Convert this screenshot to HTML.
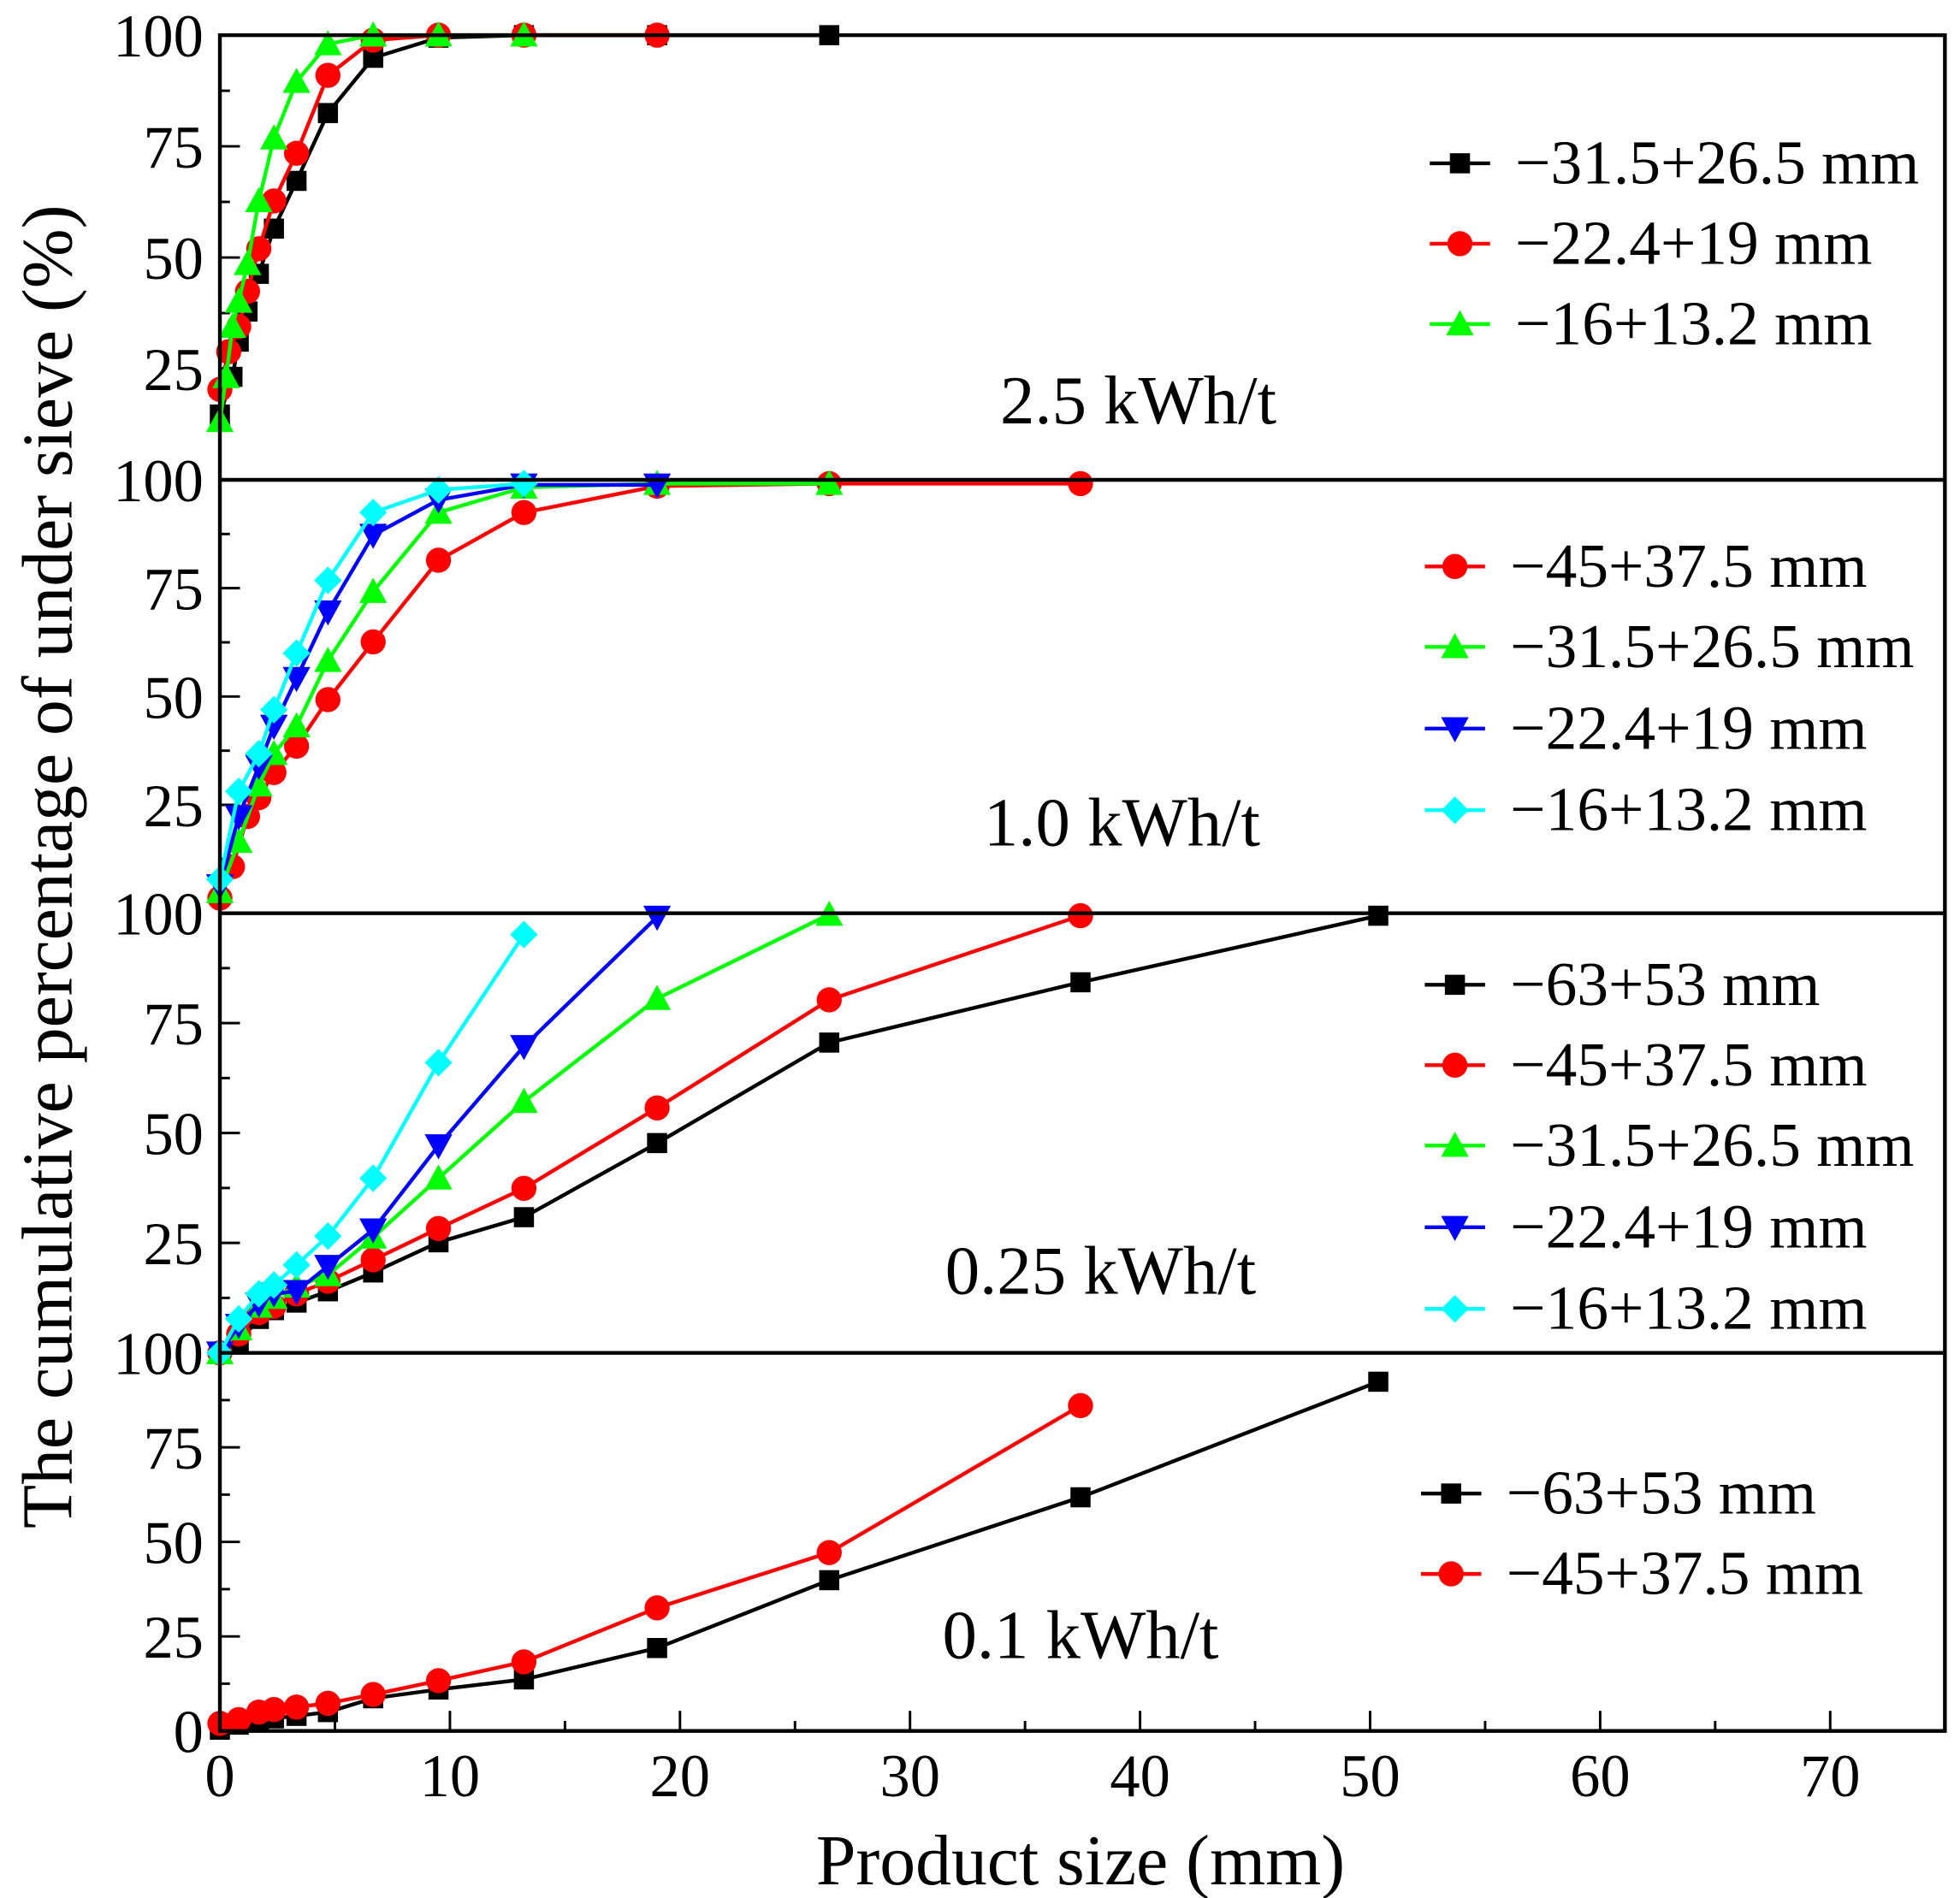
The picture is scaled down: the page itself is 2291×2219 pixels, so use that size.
<!DOCTYPE html>
<html><head><meta charset="utf-8"><style>
html,body{margin:0;padding:0;background:#fff}
svg{display:block}
text{font-family:"Liberation Serif",serif;fill:#000}
</style></head><body>
<svg id="s" width="2291" height="2219" viewBox="0 0 1560 1511" xmlns="http://www.w3.org/2000/svg">
<g id="g"></g>
<rect x="175" y="28" width="1373" height="1350" fill="none" stroke="#000" stroke-width="3"/>
<line x1="175" y1="382" x2="1548" y2="382" stroke="#000" stroke-width="3"/>
<line x1="175" y1="727" x2="1548" y2="727" stroke="#000" stroke-width="3"/>
<line x1="175" y1="1077" x2="1548" y2="1077" stroke="#000" stroke-width="3"/>
<text x="860" y="1500" font-size="57" text-anchor="middle">Product size (mm)</text>
<text transform="translate(57,690) rotate(-90)" font-size="57" text-anchor="middle">The cumulative percentage of under sieve (%)</text>
<text x="906" y="337" font-size="55" text-anchor="middle">2.5 kWh/t</text>
<text x="893" y="673" font-size="55" text-anchor="middle">1.0 kWh/t</text>
<text x="876" y="1030" font-size="55" text-anchor="middle">0.25 kWh/t</text>
<text x="860" y="1320" font-size="55" text-anchor="middle">0.1 kWh/t</text>
</svg>
<script>
const NS="http://www.w3.org/2000/svg",g=document.getElementById('g');
function el(t,a,txt){const e=document.createElementNS(NS,t);for(const k in a)e.setAttribute(k,a[k]);if(txt!==undefined)e.textContent=txt;g.appendChild(e);return e;}
const C={k:'#000',r:'#f00',g:'#0f0',b:'#00f',c:'#0ff'};
function mk(type,x,y,col){
 if(type=='s')el('rect',{x:x-8,y:y-8,width:16,height:16,fill:col});
 else if(type=='o')el('circle',{cx:x,cy:y,r:10,fill:col});
 else if(type=='t')el('polygon',{points:`${x},${y-11} ${x+11},${y+9} ${x-11},${y+9}`,fill:col});
 else if(type=='v')el('polygon',{points:`${x},${y+11} ${x+11},${y-9} ${x-11},${y-9}`,fill:col});
 else if(type=='d')el('polygon',{points:`${x},${y-11} ${x+11},${y} ${x},${y+11} ${x-11},${y}`,fill:col});
}
function ser(pts,type,col){
 el('polyline',{points:pts.map(p=>p.join(',')).join(' '),fill:'none',stroke:col,'stroke-width':3,'stroke-linejoin':'round'});
 pts.forEach(p=>mk(type,p[0],p[1],col));
}
for(let v=0;v<=75;v+=5){const x=175+v*18.31;el('line',{x1:x,y1:1378,x2:x,y2:v%10?1370:1362,stroke:'#000','stroke-width':2});
 if(v%10==0&&v<=70)el('text',{x:x,y:1430,'font-size':48,'text-anchor':'middle'},v);}
function yt(top,bot,zero){const h=bot-top;for(let v=0;v<=100;v+=12.5){const y=bot-v*h/100;el('line',{x1:175,y1:y,x2:v%25?183:191,y2:y,stroke:'#000','stroke-width':2});
 if(v%25==0&&(v>0||zero))el('text',{x:162,y:y+17,'font-size':48,'text-anchor':'end'},v);}}
yt(28,382,false);yt(382,727,false);yt(727,1077,false);yt(1077,1378,true);
ser([[175,330],[185,300],[190,272],[197,248],[206,218],[218,182],[236,144],[261,90],[297,46],[349,30],[417,28],[523,28],[660,28]],'s',C.k);
ser([[175,310],[182,280],[190,260],[197,232],[206,198],[218,160],[236,122],[261,60],[297,32],[349,28],[417,28],[523,28]],'o',C.r);
ser([[175,335],[180,300],[185,260],[190,240],[197,210],[206,160],[218,110],[236,65],[261,35],[297,28],[349,28],[417,28]],'t',C.g);
ser([[175,715],[185,690],[197,650],[206,635],[218,615],[236,594],[261,557],[297,511],[349,446],[417,408],[523,387],[660,385],[860,385]],'o',C.r);
ser([[175,710],[190,670],[206,625],[218,600],[236,578],[261,526],[297,471],[349,408],[417,388],[523,385],[660,385]],'t',C.g);
ser([[175,705],[190,650],[206,610],[218,578],[236,540],[261,487],[297,426],[349,398],[417,386],[523,386]],'v',C.b);
ser([[175,700],[190,630],[206,600],[218,565],[236,520],[261,462],[297,408],[349,390],[417,385]],'d',C.c);
ser([[175,1077],[190,1068],[206,1050],[218,1043],[236,1037],[261,1028],[297,1013],[349,989],[417,969],[523,910],[660,830],[860,782],[1097,729]],'s',C.k);
ser([[175,1077],[190,1062],[206,1045],[218,1040],[236,1030],[261,1020],[297,1003],[349,978],[417,946],[523,882],[660,796],[860,729]],'o',C.r);
ser([[175,1077],[190,1058],[206,1040],[218,1033],[236,1024],[261,1015],[297,985],[349,938],[417,877],[523,795],[660,728]],'t',C.g);
ser([[175,1077],[190,1055],[206,1038],[218,1030],[236,1028],[261,1008],[297,979],[349,912],[417,833],[523,730]],'v',C.b);
ser([[175,1077],[190,1050],[206,1030],[218,1023],[236,1007],[261,984],[297,938],[349,846],[417,744]],'d',C.c);
ser([[175,1377],[190,1373],[206,1370],[218,1368],[236,1366],[261,1363],[297,1352],[349,1345],[417,1337],[523,1312],[660,1258],[860,1192],[1097,1100]],'s',C.k);
ser([[175,1372],[190,1369],[206,1363],[218,1361],[236,1359],[261,1356],[297,1349],[349,1338],[417,1323],[523,1280],[660,1236],[860,1119]],'o',C.r);
function leg(x,y,type,col,txt){el('line',{x1:x-24,y1:y,x2:x+24,y2:y,stroke:col,'stroke-width':3});mk(type,x,y,col);el('text',{x:x+44,y:y+16,'font-size':50},txt);}
leg(1162,130,'s',C.k,'\u221231.5+26.5 mm');leg(1162,194,'o',C.r,'\u221222.4+19 mm');leg(1162,258,'t',C.g,'\u221216+13.2 mm');
leg(1158,451,'o',C.r,'\u221245+37.5 mm');leg(1158,515,'t',C.g,'\u221231.5+26.5 mm');leg(1158,580,'v',C.b,'\u221222.4+19 mm');leg(1158,645,'d',C.c,'\u221216+13.2 mm');
leg(1158,784,'s',C.k,'\u221263+53 mm');leg(1158,848,'o',C.r,'\u221245+37.5 mm');leg(1158,912,'t',C.g,'\u221231.5+26.5 mm');leg(1158,977,'v',C.b,'\u221222.4+19 mm');leg(1158,1042,'d',C.c,'\u221216+13.2 mm');
leg(1155,1189,'s',C.k,'\u221263+53 mm');leg(1155,1253,'o',C.r,'\u221245+37.5 mm');
</script>
</body></html>
